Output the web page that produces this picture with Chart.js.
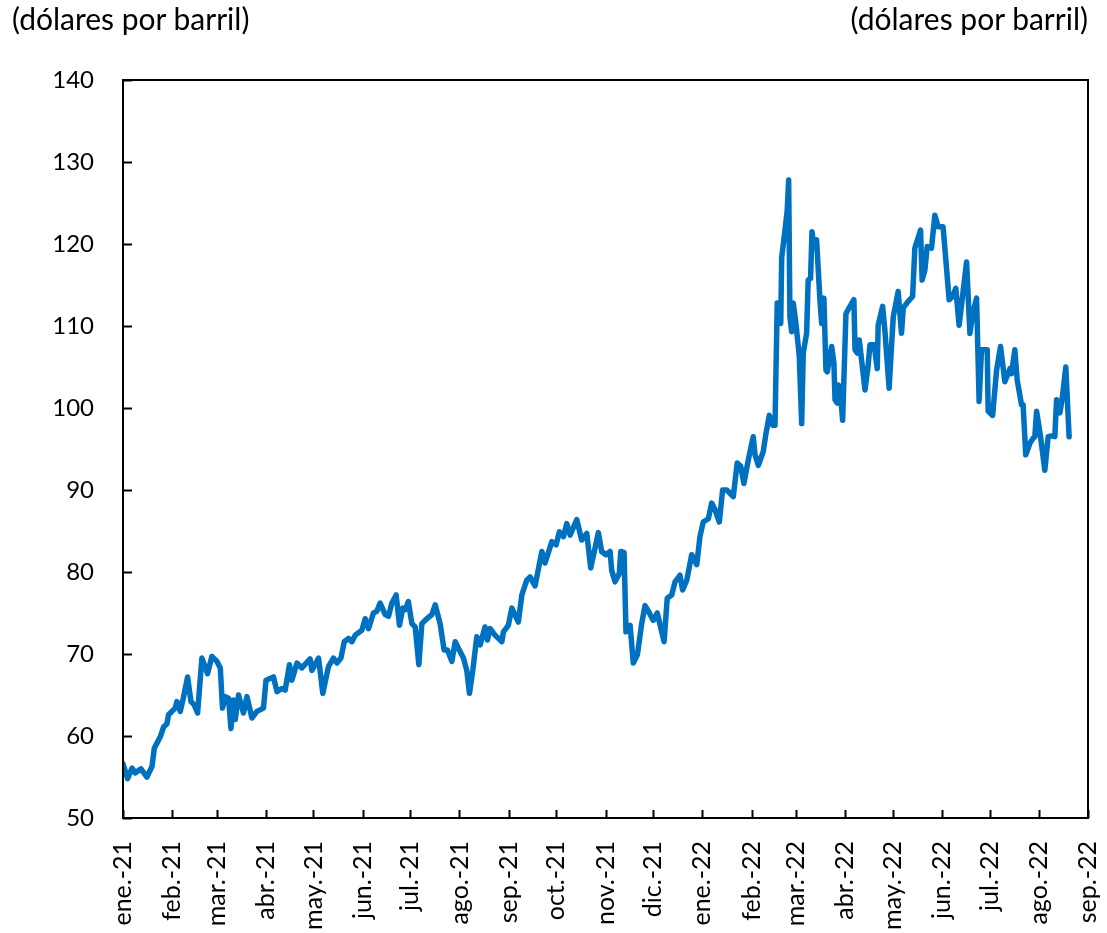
<!DOCTYPE html>
<html lang="es">
<head>
<meta charset="utf-8">
<title>Precio del petróleo</title>
<script src="https://cdn.jsdelivr.net/npm/chart.js@4.4.1/dist/chart.umd.min.js"></script>
<style>
    body { margin: 0; background: #fff; }
    #wrap { position: relative; width: 1107px; height: 933px; }
    .unidad {
        position: absolute; top: 0px;
        font-family: Lato, sans-serif; font-size: 30px; color: #000;
        white-space: nowrap;
    }
    #unidadIzq { left: 12px; }
    #unidadDer { right: 19px; }
</style>
</head>
<body>
<div id="wrap">
    <div class="unidad" id="unidadIzq">(dólares por barril)</div>
    <div class="unidad" id="unidadDer">(dólares por barril)</div>
    <canvas id="grafico"></canvas>
</div>
<script>
// Días transcurridos desde el 1 de enero de 2021
const dias = [0,2.9,5.7,7.7,11.3,15.1,18.3,19.7,23.5,25.6,
    27.7,28.7,32.9,34.0,36.1,38.2,40.7,42.8,44.9,47.0,
    49.7,53.3,56.0,59.2,61.3,62.7,64.4,66.5,68.0,69.6,
    70.7,72.8,75.9,78.1,81.2,84.4,88.5,90.1,94.8,97.0,
    100.1,102.2,104.9,106.4,109.6,112.7,117.9,119.0,123.2,125.9,
    129.5,132.6,134.8,137.3,139.4,142.1,144.2,146.3,150.5,152.6,
    154.7,157.8,159.9,162.0,165.2,167.3,169.4,172.1,174.2,176.3,
    177.8,179.8,182.0,184.1,186.4,188.3,191.4,194.6,196.7,199.8,
    202.3,204.4,207.2,209.3,211.3,214.5,216.6,218.3,220.4,222.9,
    225.0,228.1,229.6,231.3,234.4,238.7,239.7,242.8,245.0,249.1,
    251.3,254.4,256.5,259.6,263.9,265.9,270.2,272.9,274.9,277.5,
    279.6,281.7,285.9,289.0,292.2,294.7,297.4,299.5,301.6,304.3,
    306.9,307.9,310.0,312.7,313.6,315.7,316.9,319.5,321.5,324.1,
    326.8,328.9,331.6,334.1,336.6,340.9,342.9,345.7,347.8,350.9,
    352.6,355.2,358.3,361.5,363.5,365.6,368.8,370.9,373.0,375.7,
    377.8,380.4,384.5,387.0,389.2,391.2,394.0,397.1,398.2,400.3,
    403.4,405.1,407.2,409.3,410.8,412.2,414.4,415.0,417.1,418.5,
    419.4,420.2,421.3,422.3,424.0,426.1,427.6,428.6,430.7,431.7,
    433.2,434.1,435.3,437.0,439.1,440.2,441.6,442.9,443.7,446.5,
    447.9,448.6,450.0,450.6,451.7,453.4,455.5,458.0,460.5,461.2,
    462.6,463.9,467.5,469.5,470.6,473.3,475.2,475.8,478.6,480.0,
    482.7,484.2,485.3,488.4,490.5,491.6,494.7,497.5,498.9,502.5,
    503.5,505.2,506.7,509.4,511.5,513.6,516.7,520.5,522.7,524.7,
    526.8,529.3,531.5,533.6,535.3,537.8,539.4,540.9,544.5,545.1,
    547.9,550.4,552.9,555.6,558.8,559.8,561.9,563.4,566.1,567.1,
    568.8,571.4,573.4,574.5,575.6,578.1,580.8,582.9,585.0,587.1,
    588.2,590.3,591.9,594.0,596.1];

// Precio (dólares por barril)
const precios = [56.6,54.8,56.1,55.5,56.0,55.0,56.3,58.5,59.9,61.1,
    61.5,62.6,63.4,64.2,63.0,64.8,67.2,64.2,63.8,62.8,
    69.5,67.6,69.7,69.1,68.3,63.4,64.8,64.6,60.9,64.4,
    62.0,65.0,62.8,64.8,62.2,63.0,63.4,66.8,67.2,65.4,
    65.8,65.6,68.7,66.8,68.9,68.3,69.4,68.0,69.5,65.2,
    68.5,69.5,68.9,69.5,71.5,71.9,71.5,72.3,72.9,74.3,
    73.1,75.0,75.2,76.2,74.8,74.6,76.2,77.2,73.5,75.6,
    75.4,76.4,73.7,73.3,68.7,73.7,74.3,74.8,76.0,73.7,
    70.5,70.5,69.1,71.5,70.7,69.5,68.0,65.2,68.0,72.1,
    71.1,73.3,71.7,73.1,72.3,71.5,72.7,73.5,75.6,73.9,
    77.2,79.0,79.4,78.3,82.5,81.1,83.7,83.3,84.9,84.3,
    85.9,84.5,86.4,83.9,84.7,80.5,82.9,84.8,82.5,82.1,
    82.5,80.2,78.8,79.8,82.5,82.4,72.7,73.5,68.9,69.9,
    73.7,75.9,75.0,74.1,75.0,71.5,76.8,77.2,78.8,79.6,
    77.8,79.0,82.1,80.9,84.3,86.1,86.5,88.4,87.6,86.1,
    90.0,90.0,89.2,93.3,92.9,90.8,93.7,96.5,94.3,93.0,
    94.7,96.9,99.1,97.9,97.9,112.8,110.3,118.3,121.7,124.1,
    127.8,111.1,109.3,112.8,110.3,106.3,98.1,106.7,109.1,115.6,
    115.8,121.5,119.7,120.5,113.2,110.3,113.4,104.6,104.4,107.5,
    105.5,101.0,100.6,102.8,102.6,98.5,111.5,112.4,113.2,107.1,
    106.7,108.3,102.2,105.2,107.7,107.7,104.8,110.1,112.4,109.5,
    102.4,107.5,111.1,114.2,109.1,112.2,113.0,113.6,119.5,121.7,
    115.6,116.8,119.7,119.5,123.5,122.1,122.1,113.2,113.6,114.6,
    110.1,114.2,117.8,109.1,111.5,113.4,100.8,107.1,107.1,99.6,
    99.1,104.6,107.5,103.2,104.8,104.2,107.1,103.4,100.4,100.4,
    94.3,95.7,96.3,96.5,99.6,96.5,92.4,96.5,96.6,96.5,
    101.0,99.4,101.4,105.0,96.5];

// Etiquetas del eje horizontal (inicio de cada mes)
const etiquetasMes = ['ene.-21','feb.-21','mar.-21','abr.-21','may.-21','jun.-21','jul.-21',
    'ago.-21','sep.-21','oct.-21','nov.-21','dic.-21','ene.-22','feb.-22','mar.-22',
    'abr.-22','may.-22','jun.-22','jul.-22','ago.-22','sep.-22'];

const inicio = Date.UTC(2021, 0, 1);
const diasMes = etiquetasMes.map((_, i) => (Date.UTC(2021, i, 1) - inicio) / 86400000);

const yMin = 50, yMax = 140, yPaso = 10;

// Marco y marcas de graduación hacia dentro
const marcoPlugin = {
    id: 'marco',
    afterDraw(chart) {
        const { ctx, chartArea: a, scales } = chart;
        ctx.save();
        ctx.strokeStyle = '#000';
        ctx.lineWidth = 2;
        ctx.strokeRect(a.left, a.top, a.right - a.left, a.bottom - a.top);
        ctx.beginPath();
        diasMes.forEach(d => {
            const x = Math.round(scales.x.getPixelForValue(d)) + 0.5;
            ctx.moveTo(x, a.bottom);
            ctx.lineTo(x, a.bottom - 8);
        });
        for (let v = yMin; v <= yMax; v += yPaso) {
            const y = Math.round(scales.y.getPixelForValue(v)) + 0.5;
            ctx.moveTo(a.left, y);
            ctx.lineTo(a.left + 9, y);
        }
        ctx.stroke();
        ctx.restore();
    }
};

const fuente = { family: 'Lato, sans-serif', size: 24 };

new Chart(document.getElementById('grafico'), {
    type: 'line',
    data: {
        datasets: [{
            data: dias.map((d, i) => ({ x: d, y: precios[i] })),
            borderColor: '#0070C0',
            borderWidth: 5.5,
            pointRadius: 0,
            tension: 0,
            borderJoinStyle: 'round',
            borderCapStyle: 'round'
        }]
    },
    options: {
        responsive: true,
        maintainAspectRatio: false,
        animation: false,
        layout: { padding: { top: 80, right: 19, left: 0, bottom: 0 } },
        plugins: { legend: { display: false }, tooltip: { enabled: false } },
        scales: {
            x: {
                type: 'linear',
                min: 0,
                max: diasMes[diasMes.length - 1],
                grid: { display: false },
                border: { display: false },
                afterBuildTicks: (scale) => {
                    scale.ticks = diasMes.map(v => ({ value: v }));
                },
                afterFit: (scale) => {
                    scale.height = 115;
                    scale.paddingLeft = 0;
                    scale.paddingRight = 0;
                },
                ticks: {
                    autoSkip: false,
                    minRotation: 90,
                    maxRotation: 90,
                    padding: 15,
                    color: '#000',
                    font: { family: 'Lato, sans-serif', size: 25 },
                    callback: (value, index) => etiquetasMes[index]
                }
            },
            y: {
                min: yMin,
                max: yMax,
                grid: { display: false },
                border: { display: false },
                afterFit: (scale) => {
                    scale.width = 123;
                    scale.paddingTop = 0;
                    scale.paddingBottom = 0;
                },
                ticks: {
                    stepSize: yPaso,
                    padding: 21,
                    color: '#000',
                    font: fuente
                }
            }
        }
    },
    plugins: [marcoPlugin]
});
</script>
</body>
</html>
